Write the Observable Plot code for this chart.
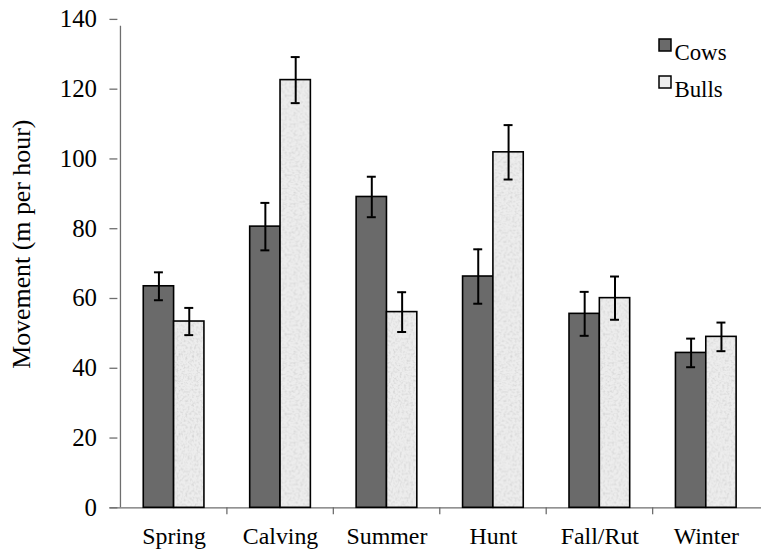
<!DOCTYPE html>
<html>
<head>
<meta charset="utf-8">
<script src="https://cdn.jsdelivr.net/npm/d3@7"></script>
<script src="https://cdn.jsdelivr.net/npm/@observablehq/plot@0.6"></script>
<style>
  html, body { margin: 0; padding: 0; background: #fff; overflow: hidden; }
</style>
</head>
<body>
<div id="chart"></div>
<script>
// Data
const seasons = ["Spring", "Calving", "Summer", "Hunt", "Fall/Rut", "Winter"];
const series = ["Cows", "Bulls"];
const cowsMean = [63.5, 80.6, 89.1, 66.3, 55.6, 44.4];
const cowsErr  = [4.0, 6.8, 5.8, 7.8, 6.3, 4.1];
const bullsMean = [53.4, 122.6, 56.1, 101.9, 60.1, 49.0];
const bullsErr  = [3.9, 6.6, 5.7, 7.8, 6.2, 4.1];
const yTicks = [0, 20, 40, 60, 80, 100, 120, 140];
const yLabel = "Movement (m per hour)";

const rows = (means, errs) => seasons.map((s, i) => ({
  season: s, value: means[i], lo: means[i] - errs[i], hi: means[i] + errs[i]
}));
const cows = rows(cowsMean, cowsErr);
const bulls = rows(bullsMean, bullsErr);

// layout
const W = 765, H = 553, mL = 118, mR = 0, mT = 19, mB = 43;
const step = (W - mL - mR) / seasons.length;
const groupW = 61;            // width of the pair of bars
const pad = 1 - groupW / step;
const half = groupW / 2;      // width of one bar
const axisColor = "#6e6e6e";
const font = "Liberation Serif";

const errMarks = (data, shift) => [
  Plot.ruleX(data, {x: "season", y1: "lo", y2: "hi", dx: shift, stroke: "black", strokeWidth: 2}),
  Plot.tickY(data, {x: "season", y: "hi", dx: shift, insetLeft: (groupW - 9) / 2, insetRight: (groupW - 9) / 2, stroke: "black", strokeWidth: 2}),
  Plot.tickY(data, {x: "season", y: "lo", dx: shift, insetLeft: (groupW - 9) / 2, insetRight: (groupW - 9) / 2, stroke: "black", strokeWidth: 2})
];

const chart = Plot.plot({
  width: W, height: H,
  marginLeft: mL, marginRight: mR, marginTop: mT, marginBottom: mB,
  style: {fontFamily: font, fontSize: "24px", color: "#000", background: "#fff"},
  x: {type: "band", domain: seasons, paddingInner: pad, paddingOuter: pad / 2},
  y: {domain: [0, 140]},
  marks: [
    // axes
    Plot.axisY({ticks: yTicks, tickSize: 8, tickPadding: 13, fontSize: 25, stroke: axisColor, strokeWidth: 1.3, fill: "#000", label: null}),
    Plot.axisX({tickSize: 0, tickPadding: 19, fontSize: 24, fill: "#000", label: null}),
    Plot.ruleY([0], {insetLeft: -8, stroke: axisColor, strokeWidth: 1.3}),
    Plot.ruleX(seasons.slice(0, 1), {x: d => d, dx: -step / 2, y1: 0, y2: 140, insetBottom: -7, stroke: axisColor, strokeWidth: 1.3}),
    Plot.ruleX(seasons.slice(1), {x: d => d, dx: -step / 2, y1: 0, y2: 0, insetBottom: -7, stroke: axisColor, strokeWidth: 1.3}),
    // bars
    Plot.barY(cows, {x: "season", y: "value", insetRight: half, fill: "#6a6a6a", stroke: "black", strokeWidth: 1.6}),
    Plot.barY(bulls, {x: "season", y: "value", insetLeft: half, fill: "url(#speckle)", stroke: "black", strokeWidth: 1.6}),
    ...errMarks(cows, -half / 2),
    ...errMarks(bulls, half / 2),
    // y axis title
    Plot.text([yLabel], {frameAnchor: "left", textAnchor: "middle", dx: -97, dy: -19.5, rotate: -90, fontSize: 26, fill: "#000"}),
    // legend
    Plot.dot(series.slice(0, 1), {frameAnchor: "top-right", dx: -97, dy: 25.7, symbol: "square", r: 6.8, fill: "#6a6a6a", stroke: "black", strokeWidth: 1.5}),
    Plot.dot(series.slice(1, 2), {frameAnchor: "top-right", dx: -97, dy: 63, symbol: "square", r: 6.8, fill: "#ececec", stroke: "black", strokeWidth: 1.5}),
    Plot.text(series.slice(0, 1), {text: d => d, frameAnchor: "top-right", textAnchor: "start", dx: -87.5, dy: 24.5, fontSize: 23, fill: "#000"}),
    Plot.text(series.slice(1, 2), {text: d => d, frameAnchor: "top-right", textAnchor: "start", dx: -87.5, dy: 62, fontSize: 23, fill: "#000"})
  ]
});

// speckled texture for the Bulls bars
const defs = `
<filter id="noise" x="0" y="0" width="100%" height="100%">
  <feTurbulence type="fractalNoise" baseFrequency="0.45" numOctaves="2" seed="3"/>
  <feColorMatrix type="matrix" values="0 0 0 0 0.55  0 0 0 0 0.55  0 0 0 0 0.55  1.4 0 0 0 -0.62"/>
</filter>
<pattern id="speckle" patternUnits="userSpaceOnUse" width="80" height="80">
  <rect width="80" height="80" fill="#ededed"/>
  <rect width="80" height="80" filter="url(#noise)"/>
</pattern>`;
const d = document.createElementNS("http://www.w3.org/2000/svg", "defs");
d.innerHTML = defs;
chart.insertBefore(d, chart.firstChild);

document.getElementById("chart").appendChild(chart);
</script>
</body>
</html>
